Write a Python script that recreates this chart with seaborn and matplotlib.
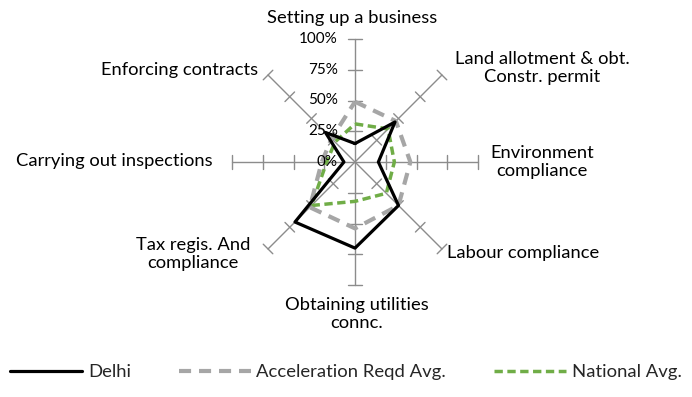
import numpy as np
import pandas as pd
import matplotlib.pyplot as plt
import seaborn as sns

categories = ["Setting up a business", "Land allotment & obt.\nConstr. permit",
              "Environment\ncompliance", "Labour compliance",
              "Obtaining utilities\nconnc.", "Tax regis. And\ncompliance",
              "Carrying out inspections", "Enforcing contracts"]
delhi = [0.15, 0.46, 0.19, 0.50, 0.70, 0.69, 0.09, 0.34]
accel = [0.49, 0.47, 0.45, 0.50, 0.54, 0.52, 0.27, 0.27]
national = [0.31, 0.38, 0.32, 0.36, 0.32, 0.50, 0.23, 0.23]
ticks = [0, 0.25, 0.5, 0.75, 1.0]
tick_labels = ["0%", "25%", "50%", "75%", "100%"]

sns.set_theme(style="white")
plt.rcParams['font.family'] = ['Lato', 'DejaVu Sans']

fig = plt.figure(figsize=(6.92, 3.97), dpi=100)
ax = fig.add_axes([0, 0, 1, 1])
R = 123.0
ax.set_xlim(-355 / R, (692 - 355) / R)
ax.set_ylim(-(397 - 162) / R, 162 / R)
ax.axis("off")

n = len(categories)
theta = np.arange(n) * 2 * np.pi / n  # clockwise from top

# spokes with tick marks
axis_col = "#8c8c8c"
h = 0.055
for t in theta:
    ax.plot([0, np.sin(t)], [0, np.cos(t)], color=axis_col, lw=1, zorder=1)
    for r in ticks[1:]:
        cx, cy = r * np.sin(t), r * np.cos(t)
        px, py = np.cos(t), -np.sin(t)
        ax.plot([cx - h * px, cx + h * px], [cy - h * py, cy + h * py],
                color=axis_col, lw=1, zorder=1)

def xy(vals):
    v = np.array(vals + vals[:1])
    th = np.append(theta, theta[0])
    return v * np.sin(th), v * np.cos(th)

series = [
    ("Delhi", delhi, "black", 2.3, "-"),
    ("Acceleration Reqd Avg.", accel, "#a6a6a6", 3.0, (0, (2.9, 1.9))),
    ("National Avg.", national, "#70ad47", 2.5, (0, (2.4, 1.3))),
]
for name, vals, col, lw, ls in series[::-1]:
    x, y = xy(vals)
    sns.lineplot(x=x, y=y, sort=False, estimator=None, color=col, lw=lw,
                 linestyle=ls, label=name, ax=ax, zorder=3, legend=False)

# radial tick labels
for r, lab in zip(ticks, tick_labels):
    ax.text(-0.14, r, lab, ha="right", va="center", fontsize=11, color="black")

# category labels (pixel centres -> data)
label_pos = [(352, 18, "center"), (542, 68, "center"), (542, 162, "center"),
             (447, 253, "left"), (357, 314, "center"), (193, 254, "center"),
             (114, 161, "center"), (180, 70, "center")]
for cat, (px_, py_, ha) in zip(categories, label_pos):
    ax.text((px_ - 355) / R, (162 - py_) / R, cat, ha=ha, va="center",
            fontsize=13.2, color="black", linespacing=1.2)

handles, labels = ax.get_legend_handles_labels()
order = [labels.index(s[0]) for s in series]
fig.legend([handles[i] for i in order], [labels[i] for i in order],
           loc="center", bbox_to_anchor=(0.5, 1 - 372 / 397), ncol=3,
           frameon=False, fontsize=13.3, handlelength=3.9, handletextpad=0.3,
           columnspacing=2.6)

fig.savefig("out.png", dpi=100)
